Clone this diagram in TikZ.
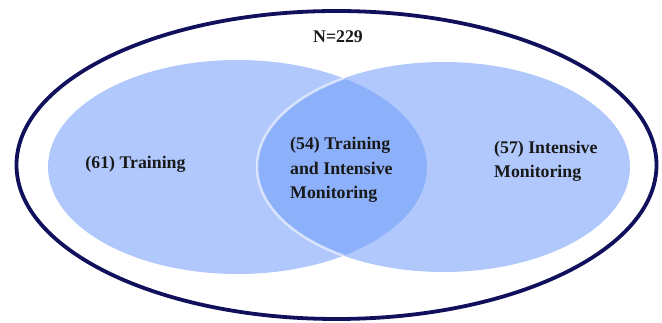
\documentclass[tikz,border=0pt]{standalone}
\usepackage{fontspec}
\setmainfont{Liberation Serif}
\usetikzlibrary{shapes.geometric}
\definecolor{vennlight}{HTML}{B0C8FC}
\definecolor{venndark}{HTML}{8CB0FA}
\definecolor{outerline}{HTML}{10105C}
\begin{document}
\begin{tikzpicture}[x=1pt,y=-1pt,
  setbox/.style={ellipse,inner sep=0pt,outer sep=0pt},
  lbl/.style={font=\fontsize{17.8}{24.5}\selectfont\bfseries,text=black!90,align=left,inner sep=0pt}]
\useasboundingbox (0,0) rectangle (662,323);
\fill[white] (0,0) rectangle (662,323);
% outer population
\node[setbox,draw=outerline,line width=3.8pt,minimum width=640pt,minimum height=308pt] (all) at (336.5,165) {};
% two sets
\node[setbox,fill=vennlight,minimum width=379pt,minimum height=214pt] (train) at (237.5,167) {};
\node[setbox,fill=vennlight,minimum width=373pt,minimum height=210pt] (moni) at (443.5,167) {};
\begin{scope}
  \clip (237.5,167) ellipse [x radius=189.5, y radius=107];
  \fill[venndark] (443.5,167) ellipse [x radius=186.5, y radius=105];
  \draw[white,opacity=0.6,line width=2.5pt] (443.5,167) ellipse [x radius=186.5, y radius=105];
\end{scope}
% labels
\node[lbl] (n) at (338,37) {N=229};
\node[lbl] (lt) at (135.5,164) {(61) Training};
\node[lbl,anchor=west] (lc) at (290,170) {(54) Training\\and Intensive\\Monitoring};
\node[lbl,anchor=west] (lr) at (494,161.5) {(57) Intensive\\Monitoring};
\end{tikzpicture}
\end{document}
